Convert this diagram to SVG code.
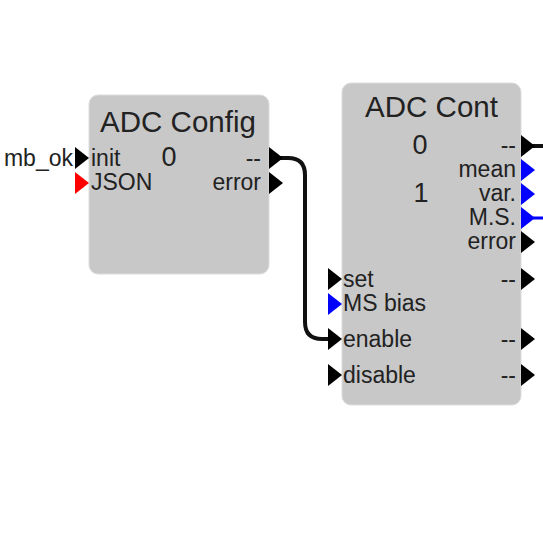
<svg xmlns="http://www.w3.org/2000/svg" width="543" height="543" viewBox="0 0 543 543">
<style>
.box{fill:#c8c8c8;stroke:#dcdcdc;stroke-width:1}
text{font-family:"Liberation Sans",Arial,sans-serif;fill:#222}
.title{font-size:29.5px;text-anchor:middle}
.lbl{font-size:23px}
.num{font-size:27px;text-anchor:middle}
.r{text-anchor:end}
.pk{fill:#000}
.pb{fill:#0000ff}
.pr{fill:#ff0000}
.wire{fill:none;stroke:#111;stroke-width:4;stroke-linecap:round;stroke-linejoin:round}
.wireb{fill:none;stroke:#0000ff;stroke-width:3}
</style>
<rect width="543" height="543" fill="#fff"/>
<g id="connectors">
<path class="wire" d="M276 158 H288 Q305 158 305 175 V322 Q305 339 322 339 H332"/>
<path class="wire" d="M533 146 H545"/>
<path class="wireb" d="M533 218 H545"/>
</g>
<g id="mb_ok">
<text class="lbl r" x="73" y="166">mb_ok</text>
</g>
<g id="adc_config">
<rect class="box" x="89" y="95" width="180" height="179" rx="9"/>
<text class="title" x="178" y="132">ADC Config</text>
<text class="num" x="169" y="166">0</text>
<text class="lbl" x="91" y="166">init</text>
<text class="lbl" x="91" y="190">JSON</text>
<text class="lbl r" x="261" y="166">--</text>
<text class="lbl r" x="261" y="190">error</text>
<polygon class="pk" points="75,147 89,158 75,169"/>
<polygon class="pr" points="75,172 89,183 75,194"/>
<polygon class="pk" points="269,147 283,158 269,169"/>
<polygon class="pk" points="269,172 283,183 269,194"/>
</g>
<g id="adc_cont">
<rect class="box" x="342" y="83" width="179" height="322" rx="9"/>
<text class="title" x="431.5" y="117">ADC Cont</text>
<text class="num" x="420" y="154">0</text>
<text class="num" x="421" y="202">1</text>
<text class="lbl r" x="516" y="153">--</text>
<text class="lbl r" x="516" y="177">mean</text>
<text class="lbl r" x="516" y="201">var.</text>
<text class="lbl r" x="516" y="225">M.S.</text>
<text class="lbl r" x="516" y="249">error</text>
<polygon class="pk" points="521,135 535,146 521,157"/>
<polygon class="pb" points="521,159 535,170 521,181"/>
<polygon class="pb" points="521,183 535,194 521,205"/>
<polygon class="pb" points="521,207 535,218 521,229"/>
<polygon class="pk" points="521,231 535,242 521,253"/>
<text class="lbl" x="343" y="287">set</text>
<text class="lbl" x="343" y="311">MS bias</text>
<text class="lbl" x="343" y="347">enable</text>
<text class="lbl" x="343" y="383">disable</text>
<polygon class="pk" points="328,268 342,279 328,290"/>
<polygon class="pb" points="328,293 342,304 328,315"/>
<polygon class="pk" points="328,328 342,339 328,350"/>
<polygon class="pk" points="328,364 342,375 328,386"/>
<text class="lbl r" x="516" y="287">--</text>
<text class="lbl r" x="516" y="347">--</text>
<text class="lbl r" x="516" y="383">--</text>
<polygon class="pk" points="521,268 535,279 521,290"/>
<polygon class="pk" points="521,328 535,339 521,350"/>
<polygon class="pk" points="521,364 535,375 521,386"/>
</g>
</svg>
